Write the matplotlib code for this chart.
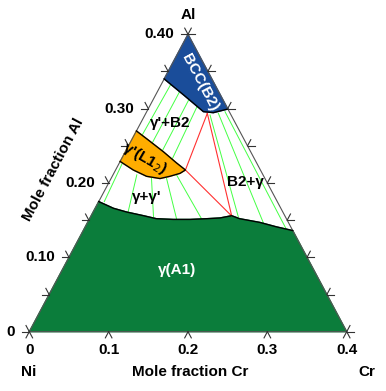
import numpy as np
import matplotlib
matplotlib.use('Agg')
import matplotlib.pyplot as plt

plt.rcParams['font.family'] = ['Liberation Sans', 'DejaVu Sans']

# phase boundaries, (x Cr, x Al)
gamma_cr = [0.0, 0.023, 0.042, 0.066, 0.084, 0.106, 0.127, 0.148, 0.164, 0.177, 0.189, 0.217, 0.241, 0.264]
gamma_al = [0.175, 0.166, 0.161, 0.156, 0.152, 0.151, 0.151, 0.152, 0.153, 0.156, 0.152, 0.147, 0.141, 0.136]

gp_cr = [0.0, 0.019, 0.048, 0.072, 0.088, 0.0835, 0.0726, 0.0617, 0.0433, 0.0223, 0.0]
gp_al = [0.270, 0.259, 0.242, 0.227, 0.2175, 0.213, 0.209, 0.206, 0.209, 0.2175, 0.229]

b2_cr = [0.0, 0.0, 0.036, 0.0714, 0.0846, 0.1005]
b2_al = [0.40, 0.34, 0.318, 0.296, 0.2946, 0.2995]

# three phase triangle
tri_cr = [0.0775, 0.088, 0.1773]
tri_al = [0.2937, 0.2175, 0.1556]

# tie lines: (cr0, al0, cr1, al1)
ties_gp_b2 = [(0.010, 0.264, 0.012, 0.333), (0.028, 0.253, 0.028, 0.323),
              (0.046, 0.243, 0.045, 0.312), (0.064, 0.232, 0.060, 0.303)]
ties_g_gp = [(0.004, 0.226, 0.007, 0.175), (0.030, 0.211, 0.044, 0.161),
             (0.051, 0.206, 0.079, 0.155), (0.070, 0.206, 0.111, 0.150),
             (0.080, 0.211, 0.141, 0.152)]
ties_b2_g = [(0.082, 0.2915, 0.186, 0.1547), (0.0914, 0.2937, 0.2216, 0.1466),
             (0.0987, 0.2959, 0.256, 0.1368)]

al_ticks = [0.0, 0.05, 0.10, 0.15, 0.20, 0.25, 0.30, 0.35, 0.40]
al_labels = ['0', '', '0.10', '', '0.20', '', '0.30', '', '0.40']
cr_ticks = [0.0, 0.1, 0.2, 0.3, 0.4]
cr_labels = ['0', '0.1', '0.2', '0.3', '0.4']

SX, SY = 793.5, 743.5  # px per unit
FS = 11


def xy(cr, al):
    cr = np.asarray(cr, float)
    al = np.asarray(al, float)
    return cr + al / 2, al


def off(dx_px, dy_px):
    return dx_px / SX, dy_px / SY


fig = plt.figure(figsize=(3.86, 3.91), dpi=100)
ax = fig.add_axes([0, 0, 1, 1])
ax.set_xlim(-29.3 / SX, (386 - 29.3) / SX)
ax.set_ylim(-(391 - 331.7) / SY, 331.7 / SY)
ax.axis('off')

green = '#0b7d3b'
# gamma region
gx, gy = xy(gamma_cr + [0.4, 0.0], gamma_al + [0.0, 0.0])
ax.fill(gx, gy, color=green, zorder=2)
x, y = xy(gamma_cr, gamma_al)
ax.plot(x, y, color='black', lw=1.0, zorder=4)

# gamma prime
x, y = xy(gp_cr, gp_al)
ax.fill(x, y, color='#ffad00', zorder=2)
ax.plot(x, y, color='black', lw=1.0, zorder=4)

# B2
x, y = xy(b2_cr, b2_al)
ax.fill(x, y, color='#1a4d9a', zorder=2)
ax.plot(x[1:], y[1:], color='black', lw=1.0, zorder=4)

# tie lines
for t in ties_gp_b2 + ties_g_gp + ties_b2_g:
    x, y = xy([t[0], t[2]], [t[1], t[3]])
    ax.plot(x, y, color='#44ff44', lw=0.7, zorder=1)
x, y = xy(tri_cr + [tri_cr[0]], tri_al + [tri_al[0]])
ax.plot(x, y, color='#ff3030', lw=0.8, zorder=3)

# triangle frame
x, y = xy([0, 0.4, 0, 0], [0, 0, 0.4, 0])
ax.plot(x, y, color='#555555', lw=0.8, zorder=3)

tl = 7.0
d_left = np.array([-0.4703, -0.8825])
d_right = np.array([0.4703, -0.8825])
tick_kw = dict(color='#333333', lw=0.8, zorder=5, clip_on=False)


def tick(px0, py0, dpx, dpy):
    dx, dy = off(dpx * tl, dpy * tl)
    ax.plot([px0, px0 + dx], [py0, py0 + dy], **tick_kw)


for a, lab in zip(al_ticks, al_labels):
    # left edge
    x0, y0 = xy(0, a)
    tick(x0, y0, -1, 0)
    tick(x0, y0, -d_right[0], -d_right[1])
    # right edge
    x1, y1 = xy(0.4 - a, a)
    tick(x1, y1, 1, 0)
    tick(x1, y1, -d_left[0], -d_left[1])
    if lab:
        dx, dy = off(-14, 0)
        ax.text(x0 + dx, y0 + dy, lab, ha='right', va='center', fontsize=FS,
                fontweight='bold')

for c, lab in zip(cr_ticks, cr_labels):
    x0, y0 = xy(c, 0)
    tick(x0, y0, d_left[0], d_left[1])
    tick(x0, y0, d_right[0], d_right[1])
    dx, dy = off(0, -18)
    ax.text(x0 + dx, y0 + dy, lab, ha='center', va='center', fontsize=FS,
            fontweight='bold')


def ptxt(px, py, s, **kw):
    ax.text((px - 29.3) / SX, (331.7 - py) / SY, s, ha='center', va='center',
            fontsize=FS, fontweight='bold', zorder=6, **kw)


ptxt(188, 15, 'Al')
ptxt(29, 372, 'Ni')
ptxt(367, 372, 'Cr')
ptxt(190, 372, 'Mole fraction Cr')
ptxt(53, 170, 'Mole fraction Al', rotation=62)
ptxt(200, 82, 'BCC(B2)', color='white', rotation=-62)
ptxt(170, 123, "γ'+B2")
ptxt(145, 158, "γ'(L1$_2$)", rotation=-30)
ptxt(147, 197, "γ+γ'")
ptxt(245, 182, 'B2+γ')
ptxt(177, 270, 'γ(A1)', color='white')

fig.savefig('out.png', dpi=100)
